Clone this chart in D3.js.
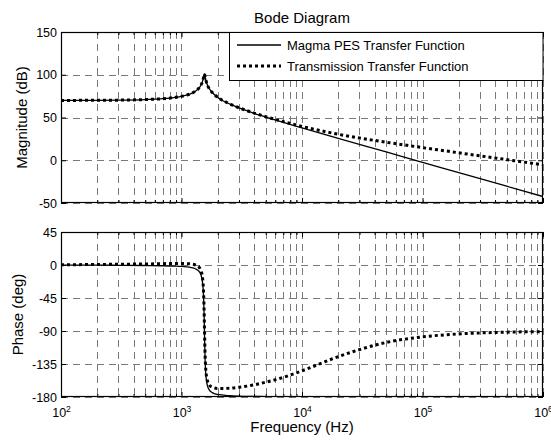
<!DOCTYPE html>
<html>
<head>
<meta charset="utf-8">
<script src="https://cdn.jsdelivr.net/npm/d3@7"></script>
<style>
  html, body { margin: 0; padding: 0; background: #fff; }
  svg { display: block; font-family: "Liberation Sans", Arial, Helvetica, sans-serif; }
</style>
</head>
<body>
<svg id="chart" width="551" height="440"></svg>
<script>
// Frequency samples (Hz) for both transfer functions
const freqHz = [100, 200, 300, 500, 700, 900, 1000, 1100, 1200, 1300, 1400, 1450, 1500, 1520, 1530,
  1540, 1550, 1560, 1570, 1580, 1600, 1650, 1700, 1800, 2000, 2500, 3000, 4000, 5000, 7000,
  10000, 20000, 50000, 100000, 200000, 500000, 1000000];

// Magnitude (dB)
const magPES = [70.0, 70.1, 70.3, 71.0, 72.0, 73.6, 74.7, 76.1, 77.9, 80.6, 84.6, 87.8, 93.0, 96.1, 97.9,
  99.4, 101.0, 99.3, 97.7, 95.9, 92.7, 87.2, 83.7, 79.2, 73.5, 65.9, 61.2, 54.9, 50.5, 44.2,
  37.8, 25.6, 9.7, -2.4, -14.4, -30.4, -42.4];
const magTrans = [70.0, 70.1, 70.3, 71.0, 72.0, 73.6, 74.7, 76.1, 77.9, 80.6, 84.6, 87.8, 93.0, 96.1, 97.9,
  99.4, 101.0, 99.3, 97.7, 95.9, 92.7, 87.2, 83.7, 79.2, 73.6, 66.0, 61.4, 55.2, 51.0, 45.2,
  39.6, 30.4, 21.1, 14.8, 8.7, 0.7, -5.3];

// Phase (deg)
const phasePES = [-0.1, -0.2, -0.4, -0.7, -1.0, -1.6, -2.0, -2.6, -3.5, -5.1, -8.8, -13.3, -25.7, -39.0, -50.6,
  -67.7, -90.0, -112.1, -129.0, -140.5, -153.6, -165.8, -170.3, -174.0, -176.5, -178.2, -178.8, -179.2, -179.4, -179.6,
  -179.8, -179.9, -180.0, -180.0, -180.0, -180.0, -180.0];
const phaseTrans = [0.3, 0.7, 1.0, 1.4, 1.8, 2.1, 2.1, 1.9, 1.4, 0.2, -3.1, -7.4, -19.6, -32.8, -44.4,
  -61.4, -83.7, -105.7, -122.6, -134.1, -147.1, -159.1, -163.4, -166.7, -168.4, -168.1, -166.7, -163.5, -159.8, -153.2,
  -144.3, -125.0, -105.6, -98.0, -94.0, -91.6, -90.8];

// Axis ticks
const decadeTicks = [1e2, 1e3, 1e4, 1e5, 1e6];
const decadeExponents = ["2", "3", "4", "5", "6"];
const minorMultipliers = [2, 3, 4, 5, 6, 7, 8, 9];
const magTicks = [-50, 0, 50, 100, 150];
const phaseTicks = [-180, -135, -90, -45, 0, 45];

const seriesNames = ["Magma PES Transfer Function", "Transmission Transfer Function"];

const svg = d3.select("#chart");
const L = 61, R = 543;
const panels = [
  { top: 32, bottom: 203, domain: [-50, 150], ticks: magTicks, a: magPES, b: magTrans,
    label: "Magnitude (dB)", labelX: 27, xLabels: false },
  { top: 232, bottom: 397, domain: [-180, 45], ticks: phaseTicks, a: phasePES, b: phaseTrans,
    label: "Phase (deg)", labelX: 23, xLabels: true }
];

const x = d3.scaleLog().domain([1e2, 1e6]).range([L, R]);
const minorTicks = [];
decadeTicks.slice(0, -1).forEach(d => minorMultipliers.forEach(m => minorTicks.push(d * m)));

const gridColor = "#7a7a7a";
const dash = "7,5";

panels.forEach((p, i) => {
  const y = d3.scaleLinear().domain(p.domain).range([p.bottom, p.top]);
  const g = svg.append("g");
  const clipId = "clip" + i;
  svg.append("clipPath").attr("id", clipId)
    .append("rect").attr("x", L).attr("y", p.top).attr("width", R - L).attr("height", p.bottom - p.top);

  // dashed grid
  const grid = g.append("g").attr("stroke", gridColor).attr("stroke-width", 1)
    .attr("stroke-dasharray", dash).attr("fill", "none");
  grid.selectAll("line.v").data(decadeTicks.concat(minorTicks)).join("line")
    .attr("x1", d => Math.round(x(d)) + 0.5).attr("x2", d => Math.round(x(d)) + 0.5)
    .attr("y1", p.top).attr("y2", p.bottom);
  grid.selectAll("line.h").data(p.ticks).join("line")
    .attr("x1", L).attr("x2", R)
    .attr("y1", d => Math.round(y(d)) + 0.5).attr("y2", d => Math.round(y(d)) + 0.5);

  // curves
  const line = d3.line().x(d => x(d[0])).y(d => y(d[1])).curve(d3.curveMonotoneX);
  const curves = g.append("g").attr("clip-path", `url(#${clipId})`).attr("fill", "none");
  curves.append("path").datum(freqHz.map((f, k) => [f, p.a[k]]))
    .attr("d", line).attr("stroke", "#000").attr("stroke-width", 1.3);
  curves.append("path").datum(freqHz.map((f, k) => [f, p.b[k]]))
    .attr("d", line).attr("stroke", "#000").attr("stroke-width", 3)
    .attr("stroke-dasharray", "3,3");

  // axes with inward ticks
  const styleAxis = sel => {
    sel.select(".domain").remove();
    sel.selectAll(".tick line").attr("stroke", "#000").attr("stroke-width", 1);
    sel.selectAll("text").attr("fill", "#000").style("font-size", "12.5px")
      .style("font-family", '"Liberation Sans", Arial, sans-serif');
  };
  const bottomAxis = g.append("g").attr("transform", `translate(0,${p.bottom})`)
    .call(d3.axisBottom(x).tickValues(decadeTicks).tickSizeInner(-5).tickSizeOuter(0).tickPadding(11)
      .tickFormat(p.xLabels ? (d => "10") : () => ""));
  styleAxis(bottomAxis);
  if (p.xLabels) {
    bottomAxis.selectAll(".tick text").each(function(d, k) {
      d3.select(this).append("tspan").attr("dy", "-0.55em").style("font-size", "8.5px").text(decadeExponents[k]);
    });
  }
  g.append("g").attr("transform", `translate(0,${p.bottom})`)
    .call(d3.axisBottom(x).tickValues(minorTicks).tickSizeInner(-3).tickSizeOuter(0).tickFormat(""))
    .call(styleAxis);
  g.append("g").attr("transform", `translate(0,${p.top})`)
    .call(d3.axisTop(x).tickValues(decadeTicks).tickSizeInner(-5).tickSizeOuter(0).tickFormat(""))
    .call(styleAxis);
  g.append("g").attr("transform", `translate(0,${p.top})`)
    .call(d3.axisTop(x).tickValues(minorTicks).tickSizeInner(-3).tickSizeOuter(0).tickFormat(""))
    .call(styleAxis);
  g.append("g").attr("transform", `translate(${L},0)`)
    .call(d3.axisLeft(y).tickValues(p.ticks).tickSizeInner(-5).tickSizeOuter(0).tickPadding(4)
      .tickFormat(d => d3.format("d")(d).replace("−", "-")))
    .call(styleAxis);
  g.append("g").attr("transform", `translate(${R},0)`)
    .call(d3.axisRight(y).tickValues(p.ticks).tickSizeInner(-5).tickSizeOuter(0).tickFormat(""))
    .call(styleAxis);

  // box
  g.append("rect").attr("x", L + 0.5).attr("y", p.top + 0.5)
    .attr("width", R - L - 1).attr("height", p.bottom - p.top - 1)
    .attr("fill", "none").attr("stroke", "#000").attr("stroke-width", 1.2);

  // y label
  svg.append("text")
    .attr("transform", `translate(${p.labelX},${(p.top + p.bottom) / 2}) rotate(-90)`)
    .attr("text-anchor", "middle").style("font-size", "15px").attr("fill", "#000")
    .text(p.label);
});

// title and x label
svg.append("text").attr("x", (L + R) / 2).attr("y", 23).attr("text-anchor", "middle")
  .style("font-size", "15px").text("Bode Diagram");
svg.append("text").attr("x", (L + R) / 2).attr("y", 432).attr("text-anchor", "middle")
  .style("font-size", "15px").text("Frequency (Hz)");

// legend
const lg = svg.append("g");
lg.append("rect").attr("x", 229.5).attr("y", 32.5).attr("width", R - 229.5).attr("height", 48)
  .attr("fill", "#fff").attr("stroke", "#000").attr("stroke-width", 1);
const legendStyles = [
  { w: 1.3, dash: null },
  { w: 3, dash: "3,3" }
];
seriesNames.forEach((name, k) => {
  const yy = 45 + k * 21;
  lg.append("line").attr("x1", 237).attr("x2", 281).attr("y1", yy).attr("y2", yy)
    .attr("stroke", "#000").attr("stroke-width", legendStyles[k].w)
    .attr("stroke-dasharray", legendStyles[k].dash);
  lg.append("text").attr("x", 287).attr("y", yy + 4.5).style("font-size", "13px").text(name);
});
</script>
</body>
</html>
